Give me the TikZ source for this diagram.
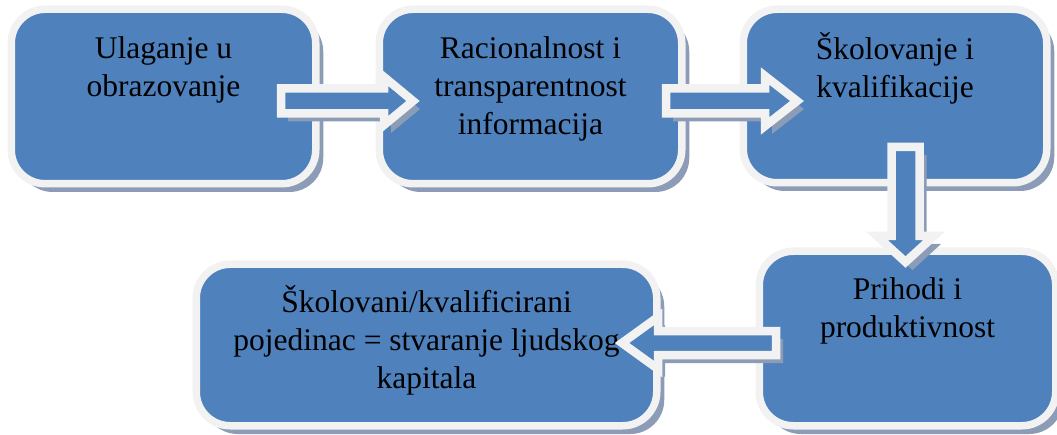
\documentclass[tikz,border=0pt]{standalone}
\usepackage{fontspec}
\setmainfont{Liberation Serif}
\usetikzlibrary{positioning,calc,shadows}
\definecolor{boxblue}{RGB}{79,129,189}
\definecolor{rimgray}{RGB}{242,242,242}
\definecolor{shadeblue}{RGB}{140,156,182}
\begin{document}
\begin{tikzpicture}[x=1pt, y=1pt,
    box/.style={draw=rimgray, line width=7.5pt, fill=boxblue, rounded corners=34pt,
      inner sep=0pt, drop shadow={shadow xshift=7.5pt, shadow yshift=-8.25pt,
      fill=shadeblue, draw=none, opacity=1}},
    txt/.style={align=center, inner sep=0pt, font=\fontsize{31.5}{38}\selectfont},
    blockarrow/.style={draw=rimgray, line width=8.5pt, fill=boxblue, line join=miter,
      drop shadow={shadow xshift=7pt, shadow yshift=-8pt, fill=shadeblue,
      draw=none, opacity=1}}]
  \useasboundingbox (0,0) rectangle (1057,434);
  \foreach \n/\x/\y/\w/\h/\d/\t in {
      b1/163.5/337.5/304.5/174.5/22.5/{Ulaganje u\\obrazovanje},
      b2/530.5/337.5/302.5/174.5/22.5/{Racionalnost i\\transparentnost\\informacija},
      b3/895/338/303.5/173.5/23.5/{Školovanje i\\kvalifikacije},
      b4/907.5/95.5/296.5/174.5/21.5/{Prihodi i\\produktivnost},
      b5/426.5/89/460.5/161.5/21.5/{Školovani/kvalificirani\\pojedinac = stvaranje ljudskog\\kapitala}} {
    \node[box, minimum width=\w pt, minimum height=\h pt] (\n) at (\x,\y) {};
    \node[txt, below=\d pt of \n.north] (t\n) {\rule{0pt}{30pt}\t};
  }
  % block arrows between the boxes
  \coordinate (a1s) at (281,333);   \coordinate (a1e) at (413,333);
  \coordinate (a2s) at (666,333);   \coordinate (a2e) at (797,333);
  \coordinate (a3s) at (905.5,287); \coordinate (a3e) at (905.5,172);
  \coordinate (a4s) at (776,91);    \coordinate (a4e) at (622,91);
  \foreach \s/\e/\hl/\hw/\sw in {a1s/a1e/29pt/24pt/12.5pt, a2s/a2e/32pt/25pt/12.5pt,
      a3s/a3e/26pt/28.5pt/14pt, a4s/a4e/36pt/26pt/12pt} {
    \coordinate (hb) at ($(\e)!\hl!(\s)$);
    \filldraw[blockarrow] ($(\s)!\sw!90:(\e)$) -- ($(hb)!\sw!90:(\e)$)
      -- ($(hb)!\hw!90:(\e)$) -- (\e) -- ($(hb)!\hw!-90:(\e)$)
      -- ($(hb)!\sw!-90:(\e)$) -- ($(\s)!\sw!-90:(\e)$) -- cycle;
  }
\end{tikzpicture}
\end{document}
